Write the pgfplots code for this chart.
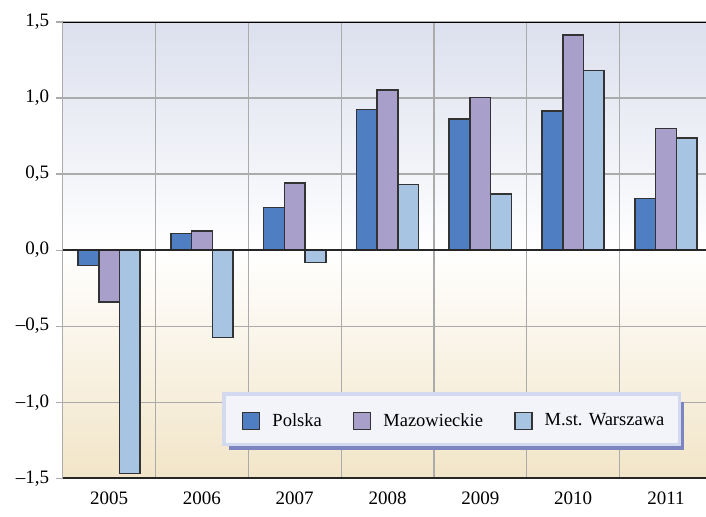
\documentclass[border=0pt]{standalone}
\usepackage{fontspec}
\setmainfont{Liberation Serif}
\usepackage{pgfplots}
\pgfplotsset{compat=1.18}
\usetikzlibrary{calc}
\definecolor{pol}{HTML}{4F7FC2}
\definecolor{maz}{HTML}{A99FCB}
\definecolor{war}{HTML}{A8C4E3}
\definecolor{bgtop}{HTML}{DCE0EE}
\definecolor{bgbot}{HTML}{F2E5C8}
\definecolor{gridc}{HTML}{ABABAB}
\definecolor{legfill}{HTML}{F3F4FA}
\definecolor{legdraw}{HTML}{D3D9EE}
\definecolor{legshadow}{HTML}{7D85C1}
\begin{document}
\fontsize{19bp}{22bp}\selectfont
\begin{tikzpicture}
\begin{axis}[
  name=ax,
  scale only axis, width=649.3bp, height=456bp,
  xmin=-0.5, xmax=6.5, ymin=-1.5, ymax=1.5,
  ybar=0pt, bar width=20.7bp,
  xtick={0,...,6}, xticklabels={2005,2006,2007,2008,2009,2010,2011},
  minor xtick={-0.5,0.5,...,6.5},
  xminorgrids,
  ytick={-1.5,-1,-0.5,0,0.5,1,1.5},
  yticklabels={{–1,5},{–1,0},{–0,5},{0,0},{0,5},{1,0},{1,5}},
  ymajorgrids,
  grid style={gridc, line width=1.2bp},
  minor grid style={gridc, line width=1.2bp},
  axis line style={draw=none},
  tick align=outside, ytick pos=left, xtick pos=bottom,
  major tick length=7bp, minor tick length=0pt,
  x tick style={draw=none}, y tick style={gridc, line width=1.2bp},
  axis background/.style={top color=bgtop, bottom color=bgbot, middle color=white},
  legend image code/.code={\draw[#1, draw=black!80, line width=1.5bp] (0bp,-8.5bp) rectangle (17bp,8.5bp);},
  legend columns=-1,
  legend style={at={(0.6026,0.125)}, anchor=center,
    fill=none, draw=none, inner sep=0pt,
    /tikz/every odd column/.append style={column sep=10bp},
    /tikz/every even column/.append style={column sep=29bp},
    font=\fontsize{18.5bp}{22bp}\selectfont},
]
\addplot[fill=pol, draw=black!80, line width=1.5bp] coordinates {(0,-0.10) (1,0.11) (2,0.28) (3,0.925) (4,0.863) (5,0.916) (6,0.34)};
\addplot[fill=maz, draw=black!80, line width=1.5bp] coordinates {(0,-0.34) (1,0.125) (2,0.44) (3,1.053) (4,1.005) (5,1.415) (6,0.80)};
\addplot[fill=war, draw=black!80, line width=1.5bp] coordinates {(0,-1.47) (1,-0.575) (2,-0.08) (3,0.43) (4,0.37) (5,1.18) (6,0.737)};
\legend{Polska,Mazowieckie,M.st. Warszawa}
\fill[legshadow] (rel axis cs:0.2561,0.0614) rectangle (rel axis cs:0.9569,0.1667);
\filldraw[fill=legfill, draw=legdraw, line width=3.5bp] (rel axis cs:0.2480,0.0740) rectangle (rel axis cs:0.9496,0.1848);
\draw[gridc, line width=1.5bp] (rel axis cs:0,0) -- (rel axis cs:0,1);
\draw[black!85, line width=1.8bp] (rel axis cs:0,0) -- (rel axis cs:1,0);
\draw[black, line width=1.2bp] (rel axis cs:0,1) -- (rel axis cs:1,1);
\draw[black!85, line width=1.5bp] (axis cs:-0.5,0) -- (axis cs:6.5,0);
\end{axis}
\pgfresetboundingbox
\path[use as bounding box] ($(ax.south west)+(-62.7bp,-38bp)$) rectangle ($(ax.north east)+(-6.3bp,22bp)$);
\end{tikzpicture}
\end{document}
